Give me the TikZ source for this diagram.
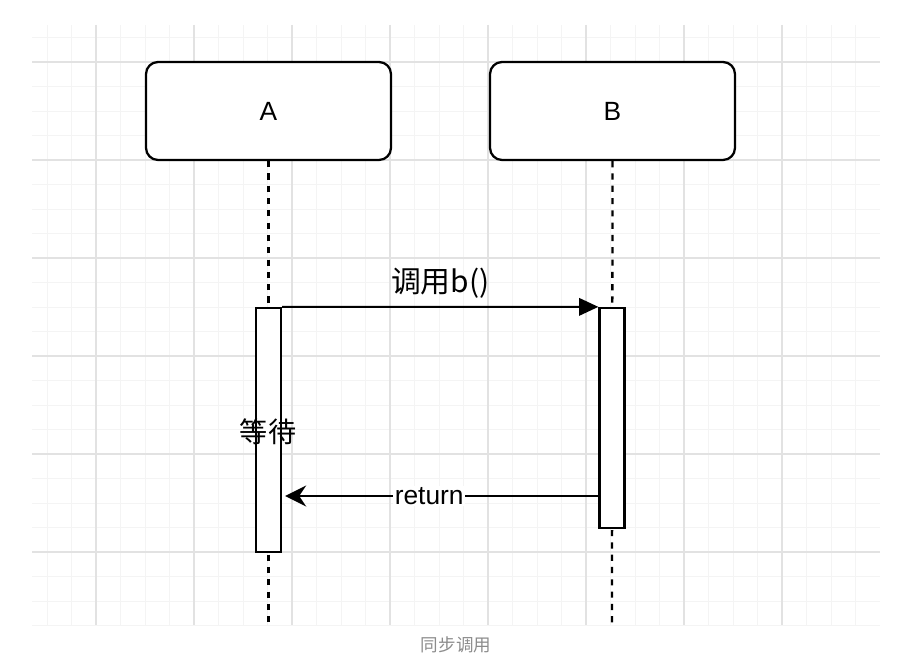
\documentclass[tikz,border=0pt]{standalone}
\usepackage{fontspec}
\setmainfont{Liberation Sans}
\newfontfamily\cjk{Noto Sans CJK SC}
\usetikzlibrary{arrows.meta}
\definecolor{minorgrid}{HTML}{F4F4F4}
\definecolor{majorgrid}{HTML}{E2E2E2}
\tikzset{
  obj/.style={draw,line width=1.3pt,rounded corners=0.24cm,fill=white,
    minimum width=4.9cm,minimum height=1.96cm,font=\fontsize{15}{17}\selectfont},
  lifeline/.style={line width=1.3pt,dash pattern=on 3.5pt off 3.5pt},
  act/.style={draw,line width=1.3pt,fill=white,minimum width=0.5cm,inner sep=0pt},
  call/.style={line width=1.1pt,-{Triangle[length=11pt,width=10pt]}},
  reply/.style={line width=1.1pt,-{Stealth[length=12pt,width=12pt,inset=4pt]}}
}
\begin{document}
\begin{tikzpicture}[x=0.02cm,y=-0.02cm]
		\useasboundingbox (0,0) rectangle (913,668);
		% grid
		\foreach \i in {-2,...,31}
			\draw[minorgrid,line width=0.5pt] ({96+24.5*\i},25) -- ({96+24.5*\i},625);
		\foreach \j in {-1,...,23}
			\draw[minorgrid,line width=0.5pt] (32,{62+24.5*\j}) -- (880,{62+24.5*\j});
		\foreach \i in {0,...,7}
			\draw[majorgrid,line width=0.6pt] ({96+98*\i},25) -- ({96+98*\i},625);
		\foreach \j in {0,...,5}
			\draw[majorgrid,line width=0.6pt] (32,{62+98*\j}) -- (880,{62+98*\j});
		% objects
		\node[obj] (A) at (268.5,111) {A};
		\node[obj] (B) at (612.5,111) {B};
		\coordinate (Aend) at (268.5,625);
		\coordinate (Bend) at (612,625);
		\draw[lifeline] (A.south) -- (Aend);
		\draw[lifeline] (B.south) -- (Bend);
		\node[act,minimum height=4.88cm] (Aact) at (268.5,430) {};
		\node[act,minimum height=4.4cm] (Bact) at (612,418) {};
		% messages
		\draw[call] (Aact.north east) -- (Bact.north west)
			node[midway,above=1pt,font=\fontsize{17}{19}\selectfont\cjk] (callmsg) {调用b()};
		\coordinate (Bret) at (Bact.west |- 0,496);
		\coordinate (Aret) at ([xshift=0.06cm]Aact.east |- 0,496);
		\draw[reply] (Bret) -- (Aret)
			node[pos=0.54,fill=white,inner sep=1pt,font=\fontsize{15}{17}\selectfont] (retmsg) {return};
		\path
		(268,432) node[font=\fontsize{16}{18}\selectfont\cjk] (wait) {等待}
		(456,645) node[text=black!45,font=\fontsize{10}{12}\selectfont\cjk] (caption) {同步调用}
		;
	\end{tikzpicture}
\end{document}
